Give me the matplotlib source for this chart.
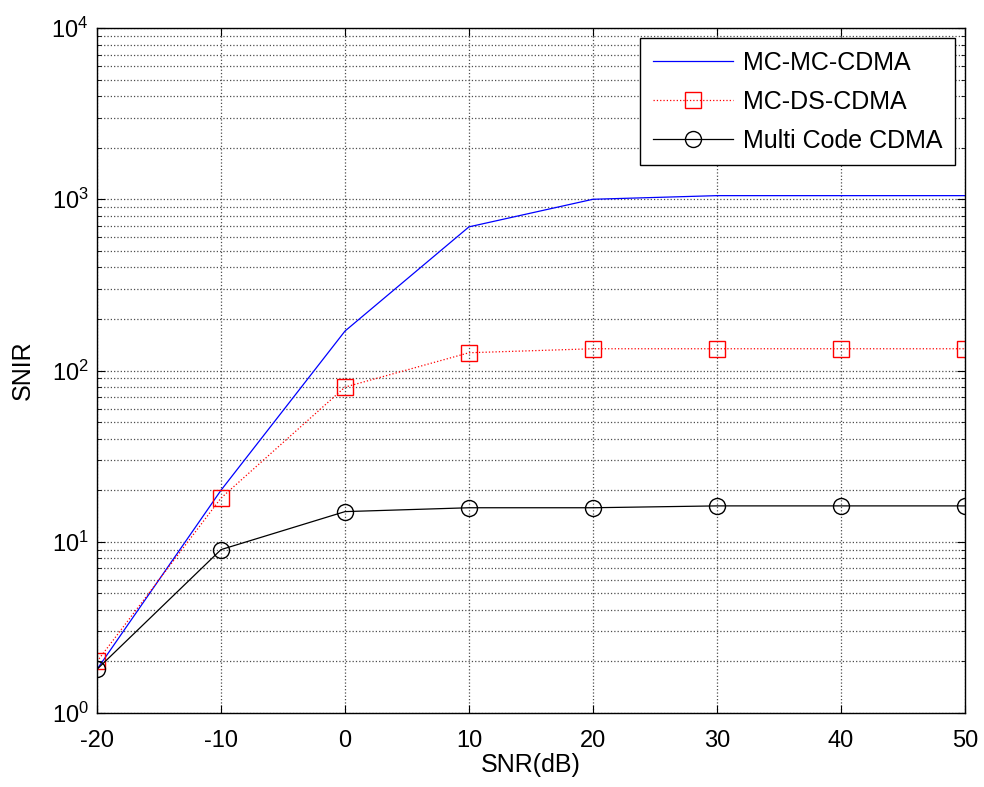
import matplotlib.pyplot as plt

# SNR values (dB)
snr_db = [-20, -10, 0, 10, 20, 30, 40, 50]

# SNIR for each scheme
mc_mc_cdma = [1.8, 20, 170, 690, 1000, 1050, 1050, 1050]
mc_ds_cdma = [2.0, 18, 80, 127, 134, 134, 134, 134]
multi_code = [1.8, 9.0, 15.0, 15.8, 15.8, 16.2, 16.2, 16.2]

plt.rcParams['font.family'] = ['Liberation Sans', 'DejaVu Sans']
plt.rcParams['axes.unicode_minus'] = False

fig = plt.figure(figsize=(9.84, 7.87), dpi=100)
ax = fig.add_axes([0.0986, 0.094, 0.882, 0.8704])

ax.plot(snr_db, mc_mc_cdma, color='blue', lw=0.9, label='MC-MC-CDMA')
ax.plot(snr_db, mc_ds_cdma, color='red', lw=0.9, ls=':', marker='s',
        markersize=11.5, markerfacecolor='none', markeredgecolor='red',
        markeredgewidth=1.0, label='MC-DS-CDMA')
ax.plot(snr_db, multi_code, color='black', lw=0.9, marker='o',
        markersize=11.5, markerfacecolor='none', markeredgecolor='black',
        markeredgewidth=1.0, label='Multi Code CDMA')

ax.set_yscale('log')
ax.set_xlim(-20, 50)
ax.set_ylim(1, 1e4)
ax.set_xticks([-20, -10, 0, 10, 20, 30, 40, 50])

ax.grid(True, which='major', ls=':', color='0.3', lw=0.9)
ax.grid(True, which='minor', axis='y', ls=':', color='0.3', lw=0.9)

ax.tick_params(direction='in', which='both', top=True, right=True,
               labelsize=17, length=6)
ax.tick_params(axis='x', pad=12)
ax.tick_params(axis='y', pad=6)
ax.tick_params(which='minor', length=3)
for s in ax.spines.values():
    s.set_linewidth(1.0)

ax.set_xlabel('SNR(dB)', fontsize=18, labelpad=1)
ax.set_ylabel('SNIR', fontsize=18, labelpad=12)

leg = ax.legend(loc='upper right', fontsize=18, fancybox=False,
                framealpha=1, edgecolor='black', borderpad=0.5,
                borderaxespad=0.4, handlelength=3.2, handletextpad=0.4,
                labelspacing=0.6)
leg.get_frame().set_linewidth(1.0)

fig.savefig('out.png', dpi=100)
